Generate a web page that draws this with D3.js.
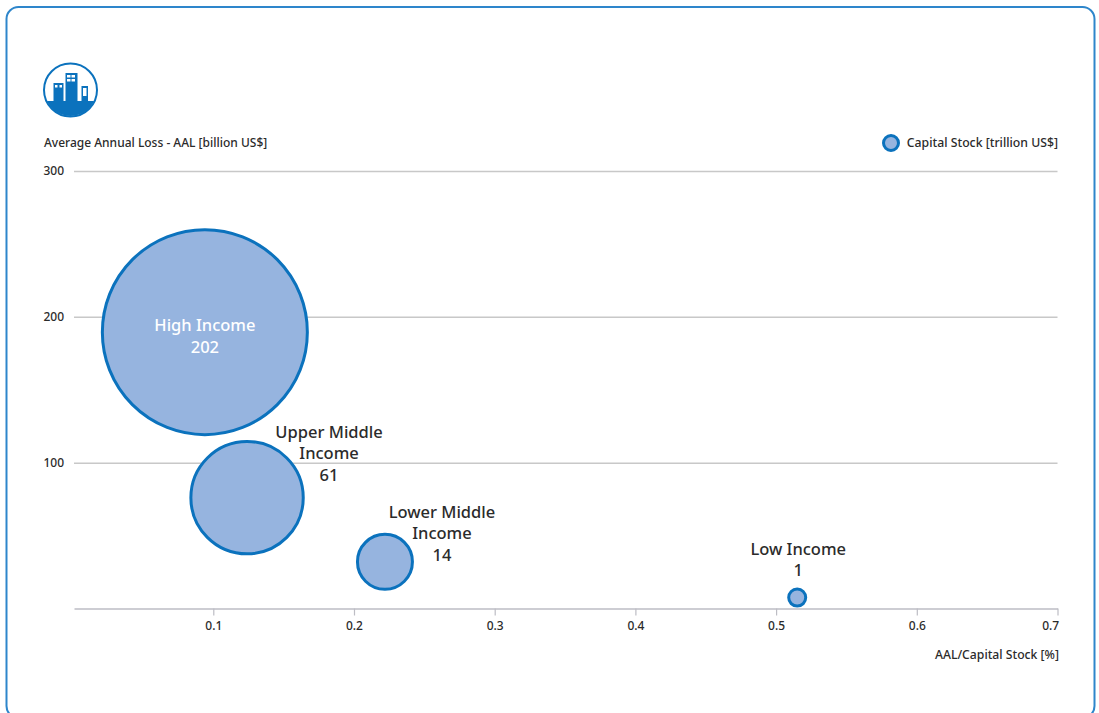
<!DOCTYPE html>
<html><head><meta charset="utf-8">
<script src="https://cdn.jsdelivr.net/npm/d3@7/dist/d3.min.js"></script>
<style>html,body{margin:0;padding:0;background:#fff;overflow:hidden}svg{display:block}text{font-family:"Noto Sans",sans-serif;fill:#2b2b2b}</style>
</head><body><svg id="c" width="1099" height="713"></svg>
<script>
const groups=[["High Income"],["Upper Middle","Income"],["Lower Middle","Income"],["Low Income"]];
const ratio=[0.094,0.124,0.222,0.515];
const aal=[189.5,76,32,7.5];
const capital=[202,61,14,1];
const bubbleSize=[203,61,14.6,1.4];
const xTicks=[0.1,0.2,0.3,0.4,0.5,0.6,0.7];
const yTicks=[100,200,300];
const yTitle="Average Annual Loss - AAL [billion US$]";
const xTitle="AAL/Capital Stock [%]";
const legendTitle="Capital Stock [trillion US$]";

const svg=d3.select("#c");
const blue="#0b72bd",fill="#96b4df",grid="#c8c8c8";
svg.append("rect").attr("x",6.5).attr("y",7).attr("width",1088).attr("height",711).attr("rx",12).attr("fill","#fff").attr("stroke","#2e86cb").attr("stroke-width",2);

const x=d3.scaleLinear().domain([0.001,0.7]).range([74,1057.5]);
const y=d3.scaleLinear().domain([0,300]).range([608.5,171]);
const r=d3.scaleSqrt().domain([0,203]).range([0,102.5]);

const gy=svg.append("g").attr("transform","translate(74,0)").call(d3.axisLeft(y).tickValues(yTicks).tickSize(-983.5));
gy.select(".domain").remove();
gy.selectAll("line").attr("stroke",grid).attr("stroke-width",1.5);
gy.selectAll("text").attr("font-size",12).attr("font-weight",500).attr("x",-10).attr("dy","0.32em");
const gx=svg.append("g").attr("transform","translate(0,608.5)").call(d3.axisBottom(x).tickValues(xTicks).tickSize(7).tickSizeOuter(0).tickFormat(d3.format(".1f")));
gx.select(".domain").attr("stroke","#bdbdc4").attr("stroke-width",1.5);
gx.selectAll("line").attr("stroke","#bdbdc4").attr("stroke-width",1.2);
gx.selectAll("text").attr("font-size",12).attr("font-weight",500).attr("y",13).attr("dy","0.71em")
  .attr("text-anchor",d=>d===0.7?"end":"middle").attr("dx",d=>d===0.7?"0.1em":0);

svg.append("text").attr("x",44).attr("y",147).attr("font-size",12).attr("font-weight",500).text(yTitle);
svg.append("text").attr("x",1059).attr("y",658.5).attr("text-anchor","end").attr("font-size",12.2).attr("font-weight",500).text(xTitle);
svg.append("text").attr("x",1058).attr("y",146.5).attr("text-anchor","end").attr("font-size",12.25).attr("font-weight",500).text(legendTitle);
svg.append("circle").attr("cx",891).attr("cy",143).attr("r",7.5).attr("fill",fill).attr("stroke",blue).attr("stroke-width",3);

const idx=d3.range(groups.length);
svg.append("g").selectAll("circle").data(idx).join("circle")
 .attr("cx",i=>x(ratio[i])).attr("cy",i=>y(aal[i])).attr("r",i=>r(bubbleSize[i]))
 .attr("fill",fill).attr("stroke",blue).attr("stroke-width",3);

const labelAnchor=[[0,-1],[82,-60],[57,-44],[1,-43]];
const lh=21.5;
idx.forEach(i=>{
  const lines=groups[i].concat(String(capital[i]));
  const t=svg.append("text").attr("text-anchor","middle").attr("font-size",16.5).attr("font-weight",500)
    .attr("transform",`translate(${x(ratio[i])+labelAnchor[i][0]},${y(aal[i])+labelAnchor[i][1]})`);
  if(i===0) t.style("fill","#fff");
  lines.forEach((s,k)=>t.append("tspan").attr("x",0).attr("y",k*lh).text(s));
});

const ic=svg.append("g").attr("transform","translate(70.5,90)");
ic.append("clipPath").attr("id","cp").append("circle").attr("r",26);
ic.append("circle").attr("r",26.5).attr("fill","#fff").attr("stroke",blue).attr("stroke-width",2);
const ig=ic.append("g").attr("clip-path","url(#cp)").attr("fill",blue);
ig.append("rect").attr("x",-28).attr("y",11).attr("width",56).attr("height",20);
[[-17,-7,10,19],[-5,-17,12,29],[11,-4,6.5,16]].forEach(b=>ig.append("rect").attr("x",b[0]).attr("y",b[1]).attr("width",b[2]).attr("height",b[3]));
[[-15.5,-5,2.5,2.5],[-11,-5,2.5,2.5],[-3.5,-15,3.5,2.5],[1,-15,3.5,2.5],[-3.5,-11,3.5,2.5],[1,-11,3.5,2.5],[12.5,-2,3.5,8]].forEach(b=>ig.append("rect").attr("x",b[0]).attr("y",b[1]).attr("width",b[2]).attr("height",b[3]).attr("fill","#fff"));
</script></body></html>
